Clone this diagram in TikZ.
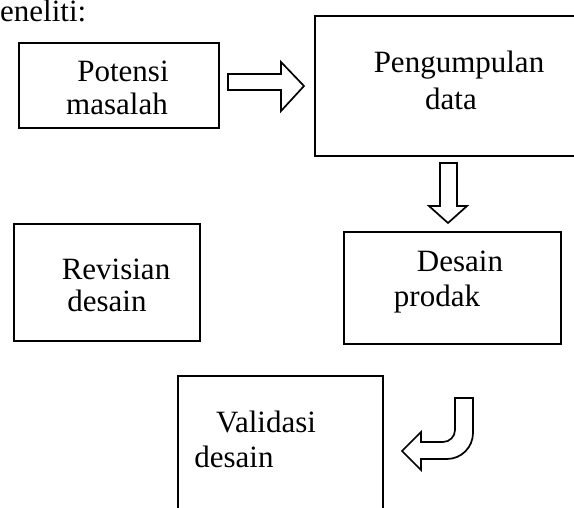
\documentclass[tikz,border=0pt]{standalone}
\usepackage{fontspec}
\setmainfont{Liberation Serif}
\begin{document}
\begin{tikzpicture}[x=1pt,y=-1pt,
  box/.style={draw,line width=2pt,inner sep=0pt,anchor=north west},
  txt/.style={anchor=base,inner sep=0pt,font=\fontsize{31}{31}\selectfont},
  blockarrow/.style={draw,line width=1.7pt,line join=miter,fill=white}]
\useasboundingbox (0,0) rectangle (574,508);
\clip (0,0) rectangle (574,508);
% boxes
\node[box,minimum width=200pt,minimum height=85pt] (pot) at (18,42) {};
\node[box,minimum width=286pt,minimum height=140pt] (peng) at (314,15) {};
\node[box,minimum width=217pt,minimum height=112pt] (des) at (343,231) {};
\node[box,minimum width=186pt,minimum height=117pt] (rev) at (13,223) {};
\node[box,minimum width=205pt,minimum height=150pt] (val) at (177,375) {};
% texts
\node[txt,anchor=base west] (t0) at (0,22) {eneliti:};
\node[txt] (t1) at (123,82) {Potensi};
\node[txt] (t2) at (117,115) {masalah};
\node[txt] (t3) at (459,73) {Pengumpulan};
\node[txt] (t4) at (451,110) {data};
\node[txt] (t5) at (460,272) {Desain};
\node[txt] (t6) at (437,307) {prodak};
\node[txt] (t7) at (116,280) {Revisian};
\node[txt] (t8) at (107,312) {desain};
\node[txt] (t9) at (266,432) {Validasi};
\node[txt] (t10) at (234,467) {desain};
% block arrows
\draw[blockarrow] (228,74) -- (281,74) -- (281,62) -- (304,86) -- (281,111) -- (281,90) -- (228,90) -- cycle;
\draw[blockarrow] (440,163) -- (457,163) -- (457,206) -- (467,206) -- (448,223) -- (429,206) -- (440,206) -- cycle;
\draw[blockarrow] (402,451) -- (421,432) -- (421,442) -- (443,442)
  .. controls (449.6,442) and (455,436.6) .. (455,430) -- (455,398) -- (473,398) -- (473,433)
  .. controls (473,447.3) and (461.3,459) .. (447,459) -- (421,459) -- (421,470) -- cycle;
\end{tikzpicture}
\end{document}
